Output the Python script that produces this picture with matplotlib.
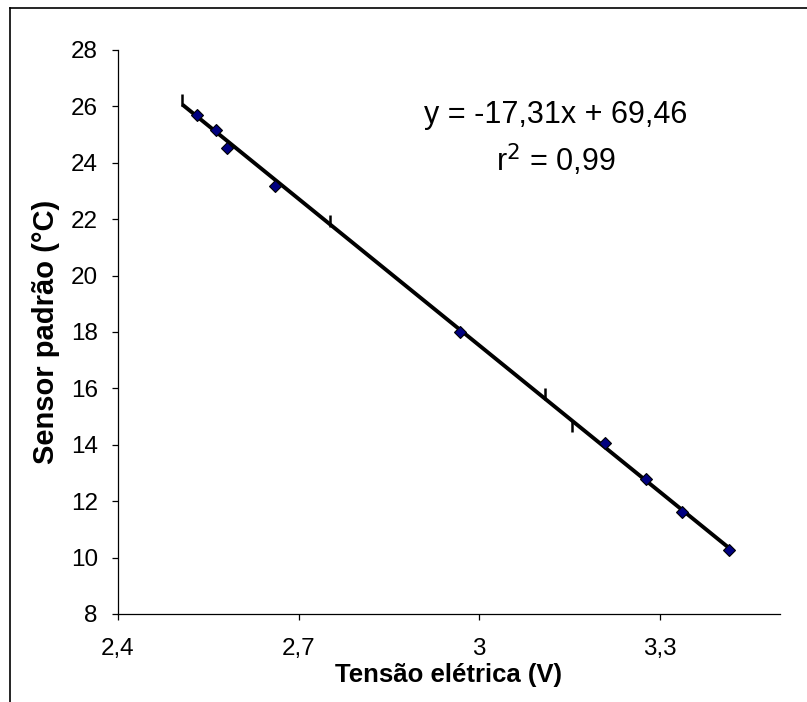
import matplotlib
matplotlib.use("Agg")
import matplotlib.pyplot as plt
from matplotlib.lines import Line2D
import numpy as np

plt.rcParams['font.family'] = ['Liberation Sans', 'DejaVu Sans']

# Measured points (diamonds)
tensao = [2.531, 2.563, 2.581, 2.661, 2.969, 3.209, 3.278, 3.337, 3.416]
sensor = [25.70, 25.16, 24.54, 23.18, 18.00, 14.05, 12.78, 11.61, 10.27]

# Second series drawn with short vertical bar markers
tensao_b = [2.507, 2.752, 3.109, 3.155]
sensor_b = [26.21, 21.94, 15.79, 14.67]

slope, intercept = -17.31, 69.46
eq_text = "y = -17,31x + 69,46"
r2_text = "r$^{2}$ = 0,99"

xticks = [2.4, 2.7, 3.0, 3.3]
xtick_labels = ["2,4", "2,7", "3", "3,3"]
yticks = [8, 10, 12, 14, 16, 18, 20, 22, 24, 26, 28]

fig = plt.figure(figsize=(8.07, 7.02), dpi=100)
ax = fig.add_axes([0.1462, 0.1254, 0.8203, 0.8034])

xl = np.array([min(tensao_b + tensao), max(tensao_b + tensao)])
ax.plot(xl, slope * xl + intercept, color='black', lw=2.8, zorder=2,
        solid_capstyle='butt')
ax.plot(tensao, sensor, linestyle='none', marker='D', markersize=6.5,
        markerfacecolor='#000080', markeredgecolor='black',
        markeredgewidth=0.8, zorder=3)
ax.plot(tensao_b, sensor_b, linestyle='none', marker='|', markersize=9,
        markeredgewidth=1.8, color='black', zorder=3)

ax.set_xlim(2.4, 3.5)
ax.set_ylim(8, 28)
ax.set_xticks(xticks)
ax.set_xticklabels(xtick_labels)
ax.set_yticks(yticks)

for s in ['top', 'right']:
    ax.spines[s].set_visible(False)
for s in ['left', 'bottom']:
    ax.spines[s].set_linewidth(0.9)
    ax.spines[s].set_color('black')

ax.tick_params(axis='both', direction='out', length=4.5, width=0.9,
               labelsize=17.5, colors='black')
ax.tick_params(axis='x', pad=13)
ax.tick_params(axis='y', pad=10)

ax.set_xlabel("Tensão elétrica (V)", fontsize=18.5, fontweight='bold',
              ha='center', va='center')
ax.xaxis.set_label_coords(0.5, -0.1075)
ax.set_ylabel("Sensor padrão (°C)", fontsize=21, fontweight='bold',
              ha='center', va='center')
ax.yaxis.set_label_coords(-0.108, 0.5)

fig.text(556 / 807, 1 - 115 / 702, eq_text, fontsize=22, ha='center', va='center')
fig.text(556 / 807, 1 - 160 / 702, r2_text, fontsize=22, ha='center', va='center')

# outer chart frame (partially visible)
fig.add_artist(Line2D([10 / 807, 10 / 807], [0, 1 - 8 / 702], transform=fig.transFigure,
                      color='black', lw=1.2))
fig.add_artist(Line2D([10 / 807, 1], [1 - 8 / 702, 1 - 8 / 702], transform=fig.transFigure,
                      color='black', lw=1.2))

fig.savefig("out.png", dpi=100)
